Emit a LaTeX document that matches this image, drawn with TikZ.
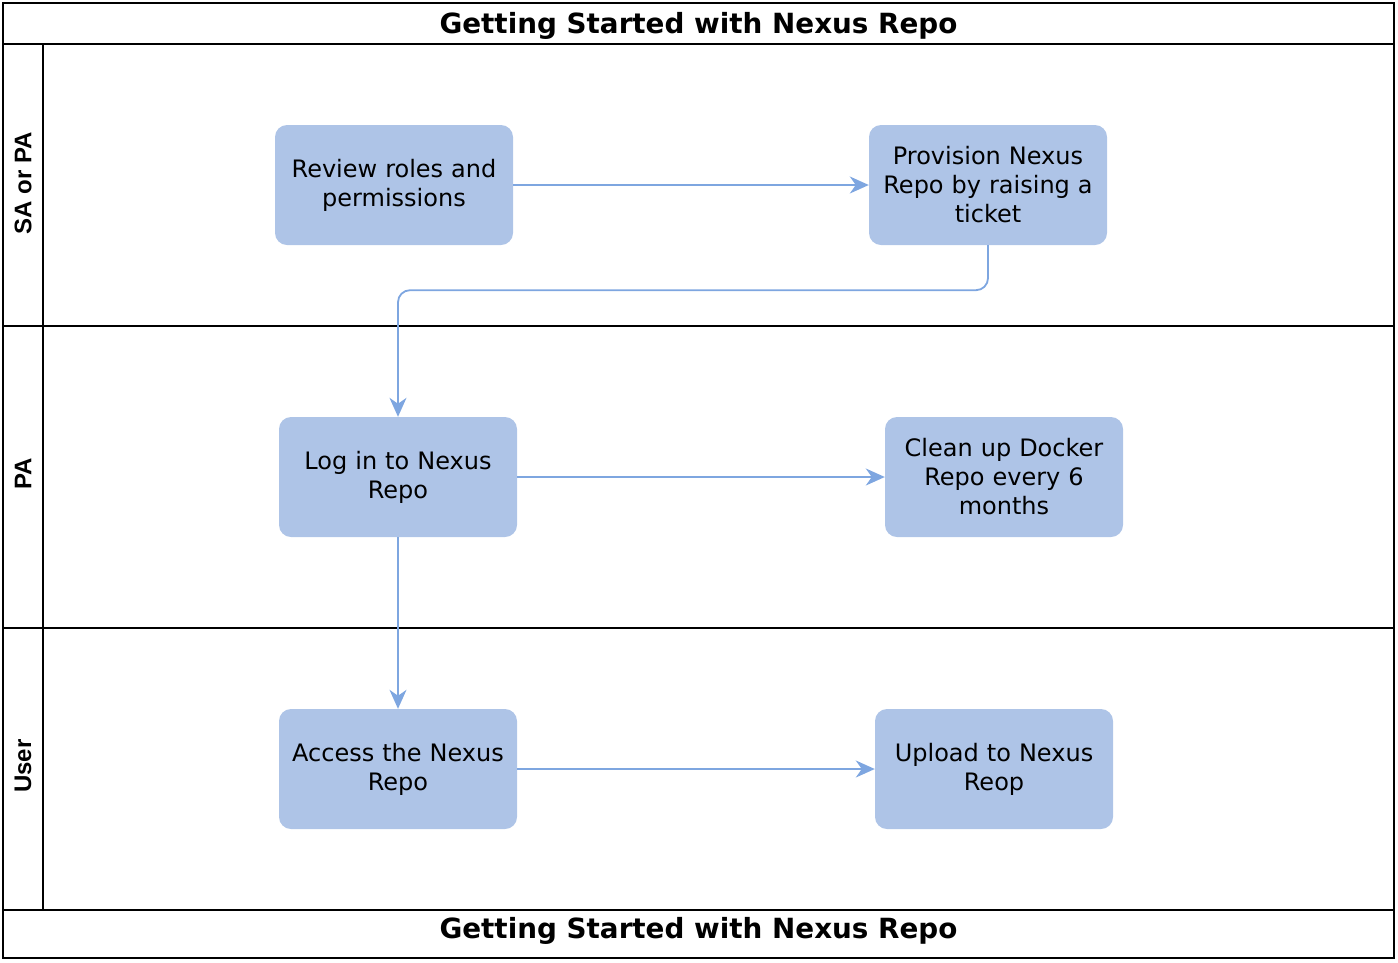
\documentclass[tikz,border=0pt]{standalone}
\usepackage{fontspec}
\setmainfont{DejaVu Sans}
\newfontfamily\headfont{Liberation Sans}
\usetikzlibrary{arrows.meta}
\definecolor{boxfill}{HTML}{AEC4E7}
\definecolor{linkcol}{HTML}{7EA6E0}
\begin{document}
\begin{tikzpicture}[x=1pt,y=-1pt,
  stepbox/.style={draw=none,fill=boxfill,rounded corners=12pt,minimum width=238pt,minimum height=120pt,
    align=center,text width=230pt,font=\fontsize{24}{29}\selectfont,inner sep=0pt},
  link/.style={draw=linkcol,line width=1.8pt,-{Stealth[length=19pt,width=17pt,inset=6pt]},rounded corners=12pt},
  frame/.style={draw=black,line width=2pt},
  lanelabel/.style={rotate=90,font=\headfont\bfseries\fontsize{24}{28}\selectfont},
  titletext/.style={font=\bfseries\fontsize{27.8}{32}\selectfont}]
\useasboundingbox (0,0) rectangle (1398,962);
% frame
\draw[frame] (3,3) rectangle (1394,958);
\draw[frame] (3,44) -- (1394,44);
\draw[frame] (3,326) -- (1394,326);
\draw[frame] (3,628) -- (1394,628);
\draw[frame] (3,910) -- (1394,910);
\draw[frame] (43,44) -- (43,910);
\node[titletext] (t1) at (698.5,26) {Getting Started with Nexus Repo};
\node[titletext] (t2) at (698.5,931) {Getting Started with Nexus Repo};
\node[lanelabel] (l1) at (23,183) {SA or PA};
\node[lanelabel] (l2) at (23,474) {PA};
\node[lanelabel] (l3) at (23,766) {User};
% boxes
\node[stepbox] (review) at (394,185) {Review roles and\\permissions};
\node[stepbox] (prov) at (988,185) {Provision Nexus\\Repo by raising a\\ticket};
\node[stepbox] (login) at (398,477) {Log in to Nexus\\Repo};
\node[stepbox] (clean) at (1004,477) {Clean up Docker\\Repo every 6\\months};
\node[stepbox] (access) at (398,769) {Access the Nexus\\Repo};
\node[stepbox] (upload) at (994,769) {Upload to Nexus\\Reop};
% links
\draw[link] (review) -- (prov);
\draw[link] (prov.south) -- ++(0,45) -| (login.north);
\draw[link] (login) -- (clean);
\draw[link] (login) -- (access);
\draw[link] (access) -- (upload);
\end{tikzpicture}
\end{document}
